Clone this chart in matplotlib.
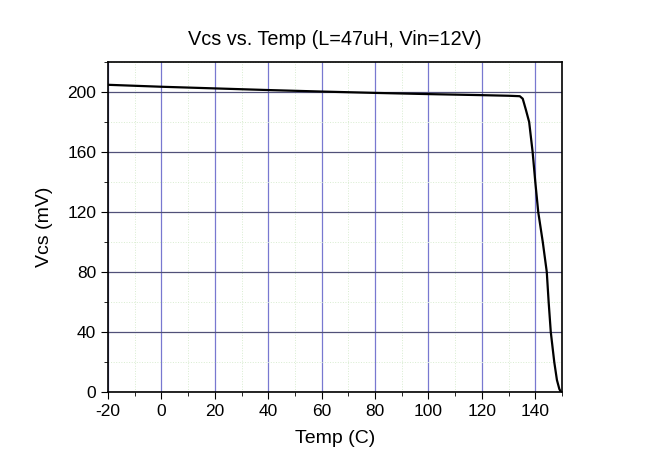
import numpy as np
import matplotlib.pyplot as plt
from matplotlib.ticker import MultipleLocator

plt.rcParams['font.family'] = ['Liberation Sans', 'DejaVu Sans']
plt.rcParams['axes.unicode_minus'] = False

temp = [-20, 0, 20, 40, 60, 80, 100, 120, 130, 134.2, 135.3, 136.5, 137.7, 139.0, 140.0,
        141.1, 142.8, 144.3, 145.0, 145.8, 147.1, 148.1, 149.0, 149.6]
vcs = [204.8, 203.5, 202.4, 201.3, 200.3, 199.4, 198.6, 197.9, 197.5, 197.2, 195.5, 188, 180, 160, 140,
       120, 100, 80, 60, 40, 20, 8, 2, 0]

fig = plt.figure(figsize=(6.55, 4.71), dpi=100)
ax = fig.add_axes([108/655, 1-392/471, 454/655, 330/471])

ax.plot(temp, vcs, color='black', lw=1.6)

ax.set_xlim(-20, 150)
ax.set_ylim(0, 220)
ax.xaxis.set_major_locator(MultipleLocator(20))
ax.xaxis.set_minor_locator(MultipleLocator(10))
ax.yaxis.set_major_locator(MultipleLocator(40))
ax.yaxis.set_minor_locator(MultipleLocator(20))

ax.grid(which='major', axis='x', color='#7878d0', lw=0.9)
ax.grid(which='major', axis='y', color='#505078', lw=0.9)
ax.grid(which='minor', color='#d8ecd0', lw=0.7, ls=':')
ax.set_axisbelow(True)

ax.tick_params(which='both', direction='out', labelsize=12.5, top=False, right=False)
ax.tick_params(which='major', length=5)
ax.tick_params(which='minor', length=3)
for s in ax.spines.values():
    s.set_linewidth(1.2)

ax.set_title('Vcs vs. Temp (L=47uH, Vin=12V)', fontsize=14.3, pad=12)
ax.set_xlabel('Temp (C)', fontsize=14, labelpad=8)
ax.set_ylabel('Vcs (mV)', fontsize=14, labelpad=10)

fig.savefig('out.png')
